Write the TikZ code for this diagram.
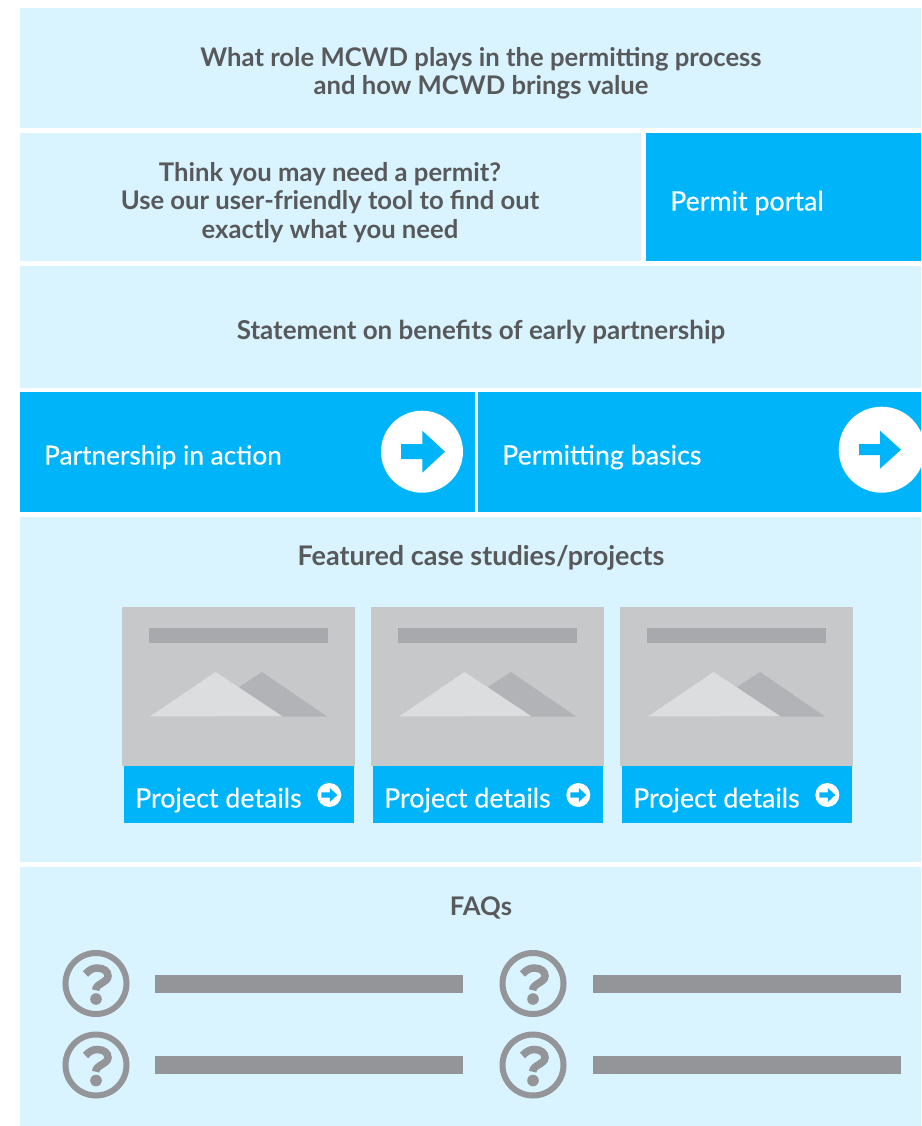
\documentclass[tikz,border=0pt]{standalone}
\usepackage{fontspec}
\setmainfont{Lato}
\newfontfamily\buttonfont[FakeBold=0.35]{Lato}
\usetikzlibrary{calc,positioning}

\definecolor{panellight}{HTML}{D9F3FF}
\definecolor{panelblue}{HTML}{00B4FA}
\definecolor{textgray}{HTML}{58595B}
\definecolor{cardgray}{HTML}{C7C8CA}
\definecolor{cardbar}{HTML}{A7A9AC}
\definecolor{peaklight}{HTML}{DCDDDF}
\definecolor{peakdark}{HTML}{B1B3B6}
\definecolor{faqgray}{HTML}{939598}

\tikzset{
  heading/.style={text=textgray, align=center, font=\fontsize{25.65}{28.5}\selectfont\bfseries},
  buttontext/.style={text=white, anchor=base west, inner sep=0pt, font=\fontsize{26.8}{28.5}\buttonfont},
  % small white circle with arrow
  smallarrow/.pic={
    \fill[white] (0,0) circle [radius=12pt];
    \fill[panelblue] (-8,-2.7) -- (0.5,-2.7) -- (0.5,-7) -- (8,0) -- (0.5,7) -- (0.5,2.7) -- (-8,2.7) -- cycle;
  },
  % project card, origin at top left corner of the gray part
  projectcard/.pic={
    \fill[cardgray] (0,0) rectangle (233,159);
    \fill[cardbar] (27,21) rectangle (206,36);
    \fill[peakdark] (117,80) -- (140,65) -- (205,109.5) -- (160,109.5) -- cycle;
    \fill[peaklight] (28,109.5) -- (93.5,65) -- (160,109) -- cycle;
    \fill[panelblue] (2,159) rectangle (232,216);
    \node[buttontext] (details) at (13,200.5) {Project details};
    \pic at (207.3,188) {smallarrow};
  },
  % question mark in a ring
  faqicon/.pic={
    \draw[faqgray, line width=6pt] (0,0) circle [radius=30.5pt];
    \draw[faqgray, line width=7.5pt] (-10.5,-9.5) .. controls (-7,-13.5) and (-3,-15.5) .. (1,-15.5)
      .. controls (8,-15.5) and (12,-12) .. (12,-7.5) .. controls (12,-1) and (-0.3,0) .. (-0.3,6.7);
    \fill[faqgray] (0,15.5) circle [radius=5.8pt];
  }
}

\begin{document}
\begin{tikzpicture}[x=1pt,y=-1pt]
% page size
\clip (0,0) rectangle (921,1126);

% panels
\fill[panellight] (20,8) rectangle (921,128);
\fill[panellight] (20,133) rectangle (641,261);
\fill[panelblue] (646,133) rectangle (921,261);
\fill[panellight] (20,266) rectangle (921,388);
\fill[panelblue] (20,392) rectangle (475,512);
\fill[panelblue] (478,392) rectangle (921,512);
\fill[panellight] (20,517) rectangle (921,862);
\fill[panellight] (20,867) rectangle (921,1126);

% texts
\node[heading] (role) at (481,73.5) {What role MCWD plays in the permitting process\\and how MCWD brings value};
\node[heading] (tool) at (330,202.5) {Think you may need a permit?\\Use our user-friendly tool to find out\\exactly what you need};
\node[buttontext] (portal) at (670,210.5) {Permit portal};
\node[heading, font=\fontsize{26}{28.5}\selectfont\bfseries] (statement) at (481,331.5) {Statement on benefits of early partnership};
\node[buttontext, font=\fontsize{26.2}{28.5}\buttonfont] (action) at (44,464.5) {Partnership in action};
\node[buttontext] (basics) at (502,464.5) {Permitting basics};
\node[heading, font=\fontsize{27}{28.5}\selectfont\bfseries] (featured) at (481,557.5) {Featured case studies/projects};
\node[heading] (faqs) at (481,907.5) {FAQs};

% big arrows
\fill[white] (422,451.7) circle [radius=41pt];
\fill[panelblue] (401,444) -- (422.3,444) -- (422.3,430.7) -- (445,451.7) -- (422.3,472.7) -- (422.3,459) -- (401,459) -- cycle;
\fill[white] (881.7,449.7) circle [radius=43pt];
\fill[panelblue] (859,444) -- (880,444) -- (880,430.7) -- (901,449.7) -- (880,468.7) -- (880,455) -- (859,455) -- cycle;

% project cards
\pic at (122,607) {projectcard};
\pic at (371,607) {projectcard};
\pic at (620,607) {projectcard};

% faq rows
\pic at (96,983.5) {faqicon};
\pic at (533,983.5) {faqicon};
\pic at (96,1065) {faqicon};
\pic at (533,1065) {faqicon};
\fill[faqgray] (155,975) rectangle (463,993);
\fill[faqgray] (593,975) rectangle (901,993);
\fill[faqgray] (155,1056) rectangle (463,1074);
\fill[faqgray] (593,1056) rectangle (901,1074);
\end{tikzpicture}
\end{document}
